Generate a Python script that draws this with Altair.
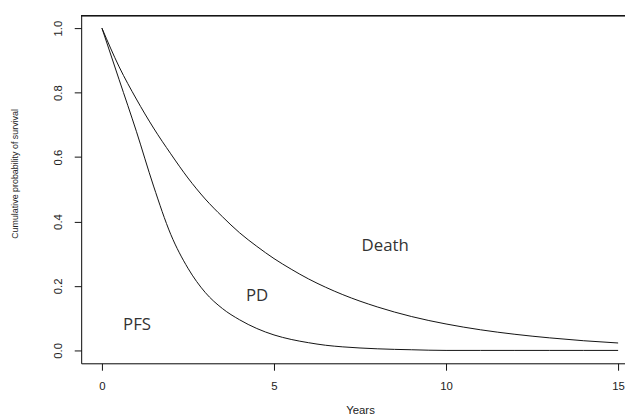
import altair as alt
import pandas as pd

years = [0, 0.5, 1, 1.5, 2, 2.5, 3, 3.5, 4, 4.5, 5, 5.5, 6, 6.5, 7, 8, 9, 10, 11, 12, 13, 14, 15]
pfs = [1.0, 0.84, 0.68, 0.51, 0.36, 0.255, 0.18, 0.13, 0.095, 0.068, 0.048, 0.034, 0.024, 0.016, 0.011,
       0.005, 0.002, 0.0, 0.0, 0.0, 0.0, 0.0, 0.0]
os_ = [1.0, 0.88, 0.78, 0.69, 0.61, 0.535, 0.47, 0.415, 0.365, 0.323, 0.285, 0.252, 0.222, 0.196, 0.173,
       0.135, 0.105, 0.082, 0.064, 0.050, 0.039, 0.030, 0.023]

labels = ["PFS", "PD", "Death"]
label_x = [1.02, 4.51, 8.23]
label_y = [0.063, 0.152, 0.309]

x_ticks = [0, 5, 10, 15]
y_ticks = [0.0, 0.2, 0.4, 0.6, 0.8, 1.0]

rows = []
for t, v in zip(years, pfs):
    rows.append({"t": t, "s": v, "curve": "PFS"})
for t, v in zip(years, os_):
    rows.append({"t": t, "s": v, "curve": "OS"})
df = pd.DataFrame(rows)
lab = pd.DataFrame({"label": labels, "x": label_x, "y": label_y})

W, H = 550, 352
xscale = alt.Scale(domain=[-0.6034, 15.20], nice=False, zero=False)
yscale = alt.Scale(domain=[-0.04, 1.04], nice=False, zero=False)

xaxis = alt.Axis(values=x_ticks, title="Years", grid=False, tickSize=7, labelPadding=10,
                 labelFont="Liberation Sans", labelFontSize=11.5, labelColor="#222",
                 titleFont="Liberation Sans", titleFontSize=11.5, titleFontWeight="normal",
                 titleColor="#222", titleX=282, titleY=51, titleBaseline="alphabetic",
                 titleAlign="center", domainColor="#111", tickColor="#111")
yaxis = alt.Axis(values=y_ticks, format=".1f", title="Cumulative probability of survival",
                 grid=False, tickSize=7, labelPadding=13, labelAngle=270,
                 labelAlign="center", labelBaseline="alphabetic",
                 labelFont="Liberation Sans", labelFontSize=11.5, labelColor="#222",
                 titleFont="Liberation Sans", titleFontSize=9, titleFontWeight="normal",
                 titleColor="#222", titleAngle=270, titleX=-67, titleY=160,
                 titleAlign="center", titleBaseline="middle",
                 domainColor="#111", tickColor="#111")

lines = alt.Chart(df).mark_line(color="#111", strokeWidth=1, clip=True,
                                interpolate="monotone").encode(
    x=alt.X("t:Q", scale=xscale, axis=xaxis),
    y=alt.Y("s:Q", scale=yscale, axis=yaxis),
    detail="curve:N",
    order="t:Q",
)

texts = alt.Chart(lab).mark_text(font="Open Sans", fontSize=17, color="#333",
                                 align="center", baseline="alphabetic").encode(
    x=alt.X("x:Q", scale=xscale),
    y=alt.Y("y:Q", scale=yscale),
    text="label:N",
)

top = alt.Chart(lab).mark_rule(color="#111", strokeWidth=1).encode(
    x=alt.value(0), x2=alt.value(W), y=alt.value(0.5)
)

chart = alt.layer(lines, texts, top).properties(
    width=W, height=H,
    autosize=alt.AutoSizeParams(type="none"),
    padding={"left": 74, "top": 5, "right": 0, "bottom": 54},
).configure_view(strokeWidth=0).configure(background="white")

chart.save("out.html", embed_options={"renderer": "svg", "actions": False})
